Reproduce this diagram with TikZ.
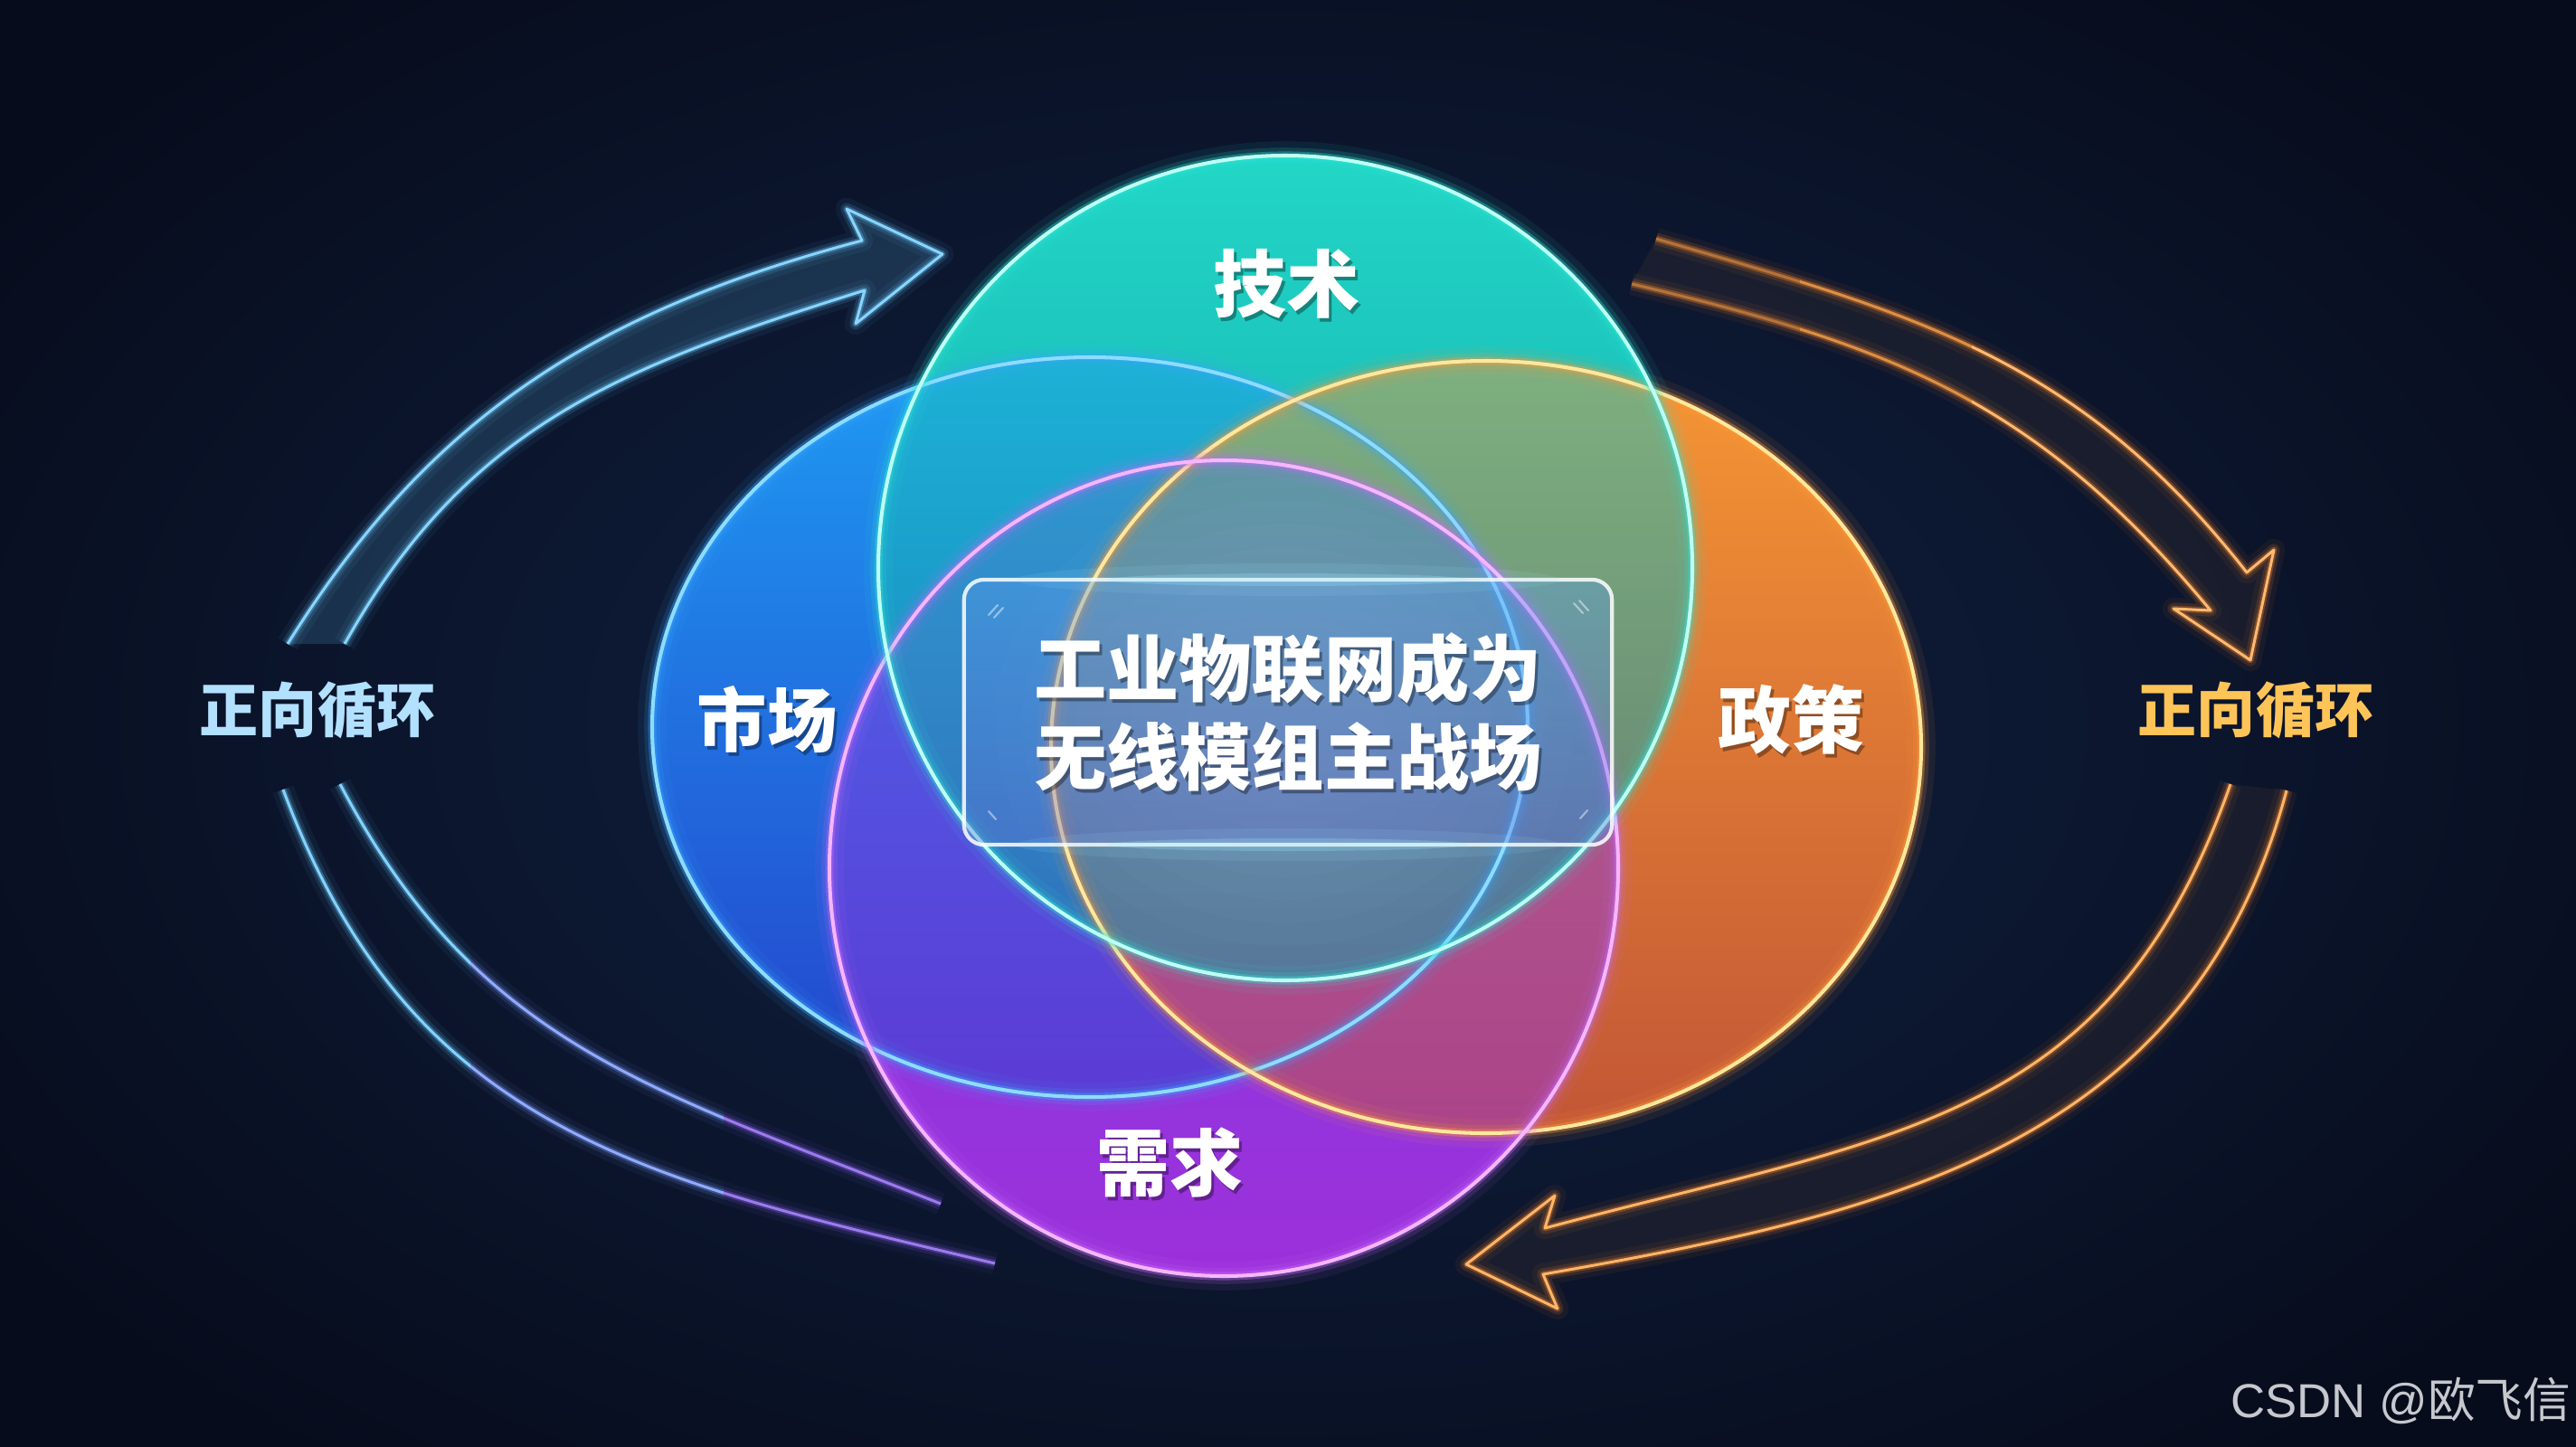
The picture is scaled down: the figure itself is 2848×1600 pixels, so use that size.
\documentclass[tikz,border=0pt]{standalone}
\usepackage{fontspec}
\setmainfont{Noto Sans CJK SC}
\newfontfamily\wmlatin{Liberation Sans}
\newfontfamily\wmcjk{Noto Sans CJK SC}
\definecolor{bgDeep}{HTML}{070C1C}
\definecolor{bgMid}{HTML}{112244}
\definecolor{tealA}{HTML}{22D6C6}
\definecolor{tealB}{HTML}{0E98A4}
\definecolor{tealLine}{HTML}{BDFFF4}
\definecolor{tealGlow}{HTML}{2EE6D6}
\definecolor{blueA}{HTML}{1E9AF2}
\definecolor{blueB}{HTML}{2444CC}
\definecolor{blueLine}{HTML}{8CDCFF}
\definecolor{blueGlow}{HTML}{3AA8FF}
\definecolor{orA}{HTML}{F59634}
\definecolor{orB}{HTML}{C25636}
\definecolor{orLine}{HTML}{FFE89C}
\definecolor{orGlow}{HTML}{FF9A3A}
\definecolor{puA}{HTML}{7840E6}
\definecolor{puB}{HTML}{9C30DA}
\definecolor{puLine}{HTML}{F6B6FF}
\definecolor{puGlow}{HTML}{C86CFF}
\definecolor{arrBlue}{HTML}{6CCBFF}
\definecolor{arrMid}{HTML}{7C9CFF}
\definecolor{arrPurple}{HTML}{8A62EC}
\definecolor{arrOrange}{HTML}{FFA84C}
\definecolor{arrOrGlow}{HTML}{FF8A2A}
\definecolor{txtBlue}{HTML}{B2E0FF}
\definecolor{txtGold}{HTML}{FFC458}
\definecolor{wmGray}{HTML}{C6C8CE}
\definecolor{glassA}{HTML}{5A9EF0}
\definecolor{glassB}{HTML}{6A70D6}
\definecolor{hiCyan}{HTML}{9EEBFF}
\definecolor{sheen}{HTML}{C8D8FF}
\newcommand\neonring[3]{%
  \draw[#1, line width=9pt, opacity=0.07, #3];
  \draw[#1, line width=5pt, opacity=0.15, #3];
  \draw[#1, line width=2.6pt, opacity=0.35, #3];
  \draw[#2, line width=1.15pt, #3];}
\newcommand\neonthin[3]{%
  \draw[#1, line width=7pt, opacity=0.06, line join=round, #3];
  \draw[#1, line width=3.8pt, opacity=0.14, line join=round, #3];
  \draw[#1, line width=2pt, opacity=0.3, line join=round, #3];
  \draw[#2, line width=0.85pt, line join=round, #3];}
\tikzset{
  ellT/.style={insert path={(1421,628) ellipse [x radius=450, y radius=456]}},
  ellB/.style={insert path={(1205,804) ellipse [x radius=484, y radius=409]}},
  ellO/.style={insert path={(1643,826) ellipse [x radius=481, y radius=427]}},
  ellP/.style={insert path={(1353,960) ellipse [x radius=436, y radius=451]}},
  tlArrow/.style={insert path={(318,712) .. controls (477,457) and (663,343) .. (953,266) -- (936,231) -- (1042,281) -- (946,358) -- (956,321) .. controls (689,405) and (518,468) .. (381,712)}},
  trArrow/.style={insert path={(1831,264) .. controls (2119,348) and (2298,396) .. (2484,633) -- (2514,608) -- (2488,730) -- (2403,673) -- (2444,675) .. controls (2252,444) and (2095,383) .. (1804,314)}},
  brArrow/.style={insert path={(2528,874) .. controls (2424,1262) and (2098,1341) .. (1706,1409) -- (1722,1447) -- (1621,1398) -- (1719,1322) -- (1708,1358) .. controls (2096,1254) and (2334,1243) .. (2466,867)}},
  blOuter/.style={insert path={(313,873) .. controls (453,1249) and (712,1305) .. (1100,1397)}},
  blInner/.style={insert path={(376,867) .. controls (528,1157) and (725,1206) .. (1040,1331)}},
  lab/.style={text=white, font=\bfseries\fontsize{23}{28}\selectfont, inner sep=0pt},
  labshadow/.style={text=black, text opacity=0.35, font=\bfseries\fontsize{23}{28}\selectfont, inner sep=0pt},
  cyc/.style={font=\bfseries\fontsize{18.5}{22}\selectfont, inner sep=0pt},
  corebox/.style={rounded corners=6.3pt, minimum width=7.16cm, minimum height=2.93cm, inner sep=0pt,
    top color=glassA, bottom color=glassB, fill opacity=0.36, draw=white, draw opacity=0.85, line width=1.2pt},
  coretext/.style={text=white, align=center, font=\bfseries\fontsize{22.8}{28}\selectfont, inner sep=0pt},
  coreshadow/.style={text=black, text opacity=0.35, align=center, font=\bfseries\fontsize{22.8}{28}\selectfont, inner sep=0pt},
  cornermark/.style={white, opacity=0.45, line width=0.6pt, line cap=round}
}
\begin{document}
\begin{tikzpicture}[x=0.01cm, y=-0.01cm]
\useasboundingbox (0,0) rectangle (2848,1600);
% background
\fill[bgDeep] (0,0) rectangle (2848,1600);
\shade[inner color=bgMid, outer color=bgDeep] (-300,-250) rectangle (3148,1850);

% arrows: band fills
\fill[arrBlue, opacity=0.16, tlArrow];
\fill[arrOrange, opacity=0.06, trArrow];
\fill[arrOrange, opacity=0.06, brArrow];

% top-left arrow
\neonthin{arrBlue}{arrBlue!80!white}{tlArrow}
% bottom-left arcs with colour change
\begin{scope}
  \clip (0,0) rectangle (520,1600);
  \neonthin{arrBlue}{arrBlue!85!white}{blOuter}
  \neonthin{arrBlue}{arrBlue!85!white}{blInner}
\end{scope}
\begin{scope}
  \clip (520,0) rectangle (800,1600);
  \neonthin{arrMid}{arrMid!85!white}{blOuter}
  \neonthin{arrMid}{arrMid!85!white}{blInner}
\end{scope}
\begin{scope}
  \clip (800,0) rectangle (2848,1600);
  \neonthin{arrPurple}{arrPurple!85!white}{blOuter}
  \neonthin{arrPurple}{arrPurple!85!white}{blInner}
\end{scope}
% top-right arrow, faint at its start
\begin{scope}[opacity=0.45]
  \clip (1700,0) rectangle (1990,1600);
  \neonthin{arrOrGlow}{arrOrange}{trArrow}
\end{scope}
\begin{scope}[opacity=0.75]
  \clip (1990,0) rectangle (2180,1600);
  \neonthin{arrOrGlow}{arrOrange}{trArrow}
\end{scope}
\begin{scope}
  \clip (2180,0) rectangle (2848,1600);
  \neonthin{arrOrGlow}{arrOrange!80!white}{trArrow}
\end{scope}
% bottom-right arrow
\neonthin{arrOrGlow}{arrOrange!85!white}{brArrow}

% circles: opaque base layers
\shade[top color=puA, bottom color=puB, ellP];
\shade[top color=tealA, bottom color=tealB, ellT];
\shade[top color=blueA, bottom color=blueB, ellB];
\shade[top color=orA, bottom color=orB, ellO];
% translucent upper layers
\shade[top color=puA, bottom color=puB, opacity=0.5, ellP];
\shade[top color=tealA, bottom color=tealB, opacity=0.55, ellT];
% soft pale centre sheen
\foreach \r in {320,290,260,230,200,170,140,110}
  \fill[sheen, opacity=0.025] (1420,800) ellipse [x radius=\r, y radius=0.85*\r];

% outlines with glow
\neonring{blueGlow}{blueLine}{ellB}
\neonring{orGlow}{orLine}{ellO}
\neonring{puGlow}{puLine}{ellP}
\neonring{tealGlow}{tealLine}{ellT}

% central glass box
\node[corebox] (core) at (1424,787.5) {};
\fill[hiCyan, opacity=0.10] (1424,641) ellipse [x radius=300, y radius=18];
\fill[hiCyan, opacity=0.25] (1424,641) ellipse [x radius=200, y radius=7];
\fill[hiCyan, opacity=0.10] (1424,934) ellipse [x radius=300, y radius=18];
\fill[hiCyan, opacity=0.25] (1424,934) ellipse [x radius=200, y radius=7];
\draw[cornermark] (1093,680) -- (1103,669) (1099,683) -- (1109,672);
\draw[cornermark] (1740,667) -- (1750,678) (1746,664) -- (1756,675);
\draw[cornermark] (1093,897) -- (1101,906);
\draw[cornermark] (1747,905) -- (1755,896);
\node[coreshadow] (core-s) at (1427,791.5) {工业物联网成为\\无线模组主战场};
\node[coretext] (core-t) at (core.center) {工业物联网成为\\无线模组主战场};

% circle labels
\node[labshadow] (tech-s) at (1425,318) {技术};
\node[lab] (tech) at (1422,314) {技术};
\node[labshadow, font=\bfseries\fontsize{22}{26}\selectfont] (market-s) at (851,800) {市场};
\node[lab, font=\bfseries\fontsize{22}{26}\selectfont] (market) at (848,796) {市场};
\node[labshadow] (policy-s) at (1983,800) {政策};
\node[lab] (policy) at (1980,796) {政策};
\node[labshadow] (demand-s) at (1296,1290) {需求};
\node[lab] (demand) at (1293,1286) {需求};

% cycle labels
\node[cyc, text=txtBlue] (cycL) at (351,785) {正向循环};
\node[cyc, text=txtGold] (cycR) at (2494,785) {正向循环};

% watermark
\node[anchor=east, text=wmGray, inner sep=0pt, font=\fontsize{15}{18}\selectfont] (wm) at (2843,1549) {{\wmlatin CSDN @}{\wmcjk 欧飞信}};
\end{tikzpicture}
\end{document}
